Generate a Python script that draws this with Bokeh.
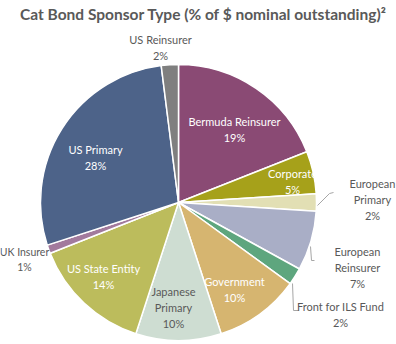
import numpy as np
from bokeh.plotting import figure
from bokeh.models import Range1d, ColumnDataSource
from bokeh.embed import file_html
from bokeh.resources import INLINE
from bokeh.core.properties import value

# ---------------- data ----------------
title_text = "Cat Bond Sponsor Type (% of $ nominal outstanding)\u00b2"
sponsors = ["Bermuda Reinsurer", "Corporate", "European Primary", "European Reinsurer",
            "Front for ILS Fund", "Government", "Japanese Primary", "US State Entity",
            "UK Insurer", "US Primary", "US Reinsurer"]
label_names = ["Bermuda Reinsurer", "Corporate", "European\nPrimary", "European\nReinsurer",
               "Front for ILS Fund", "Government", "Japanese\nPrimary", "US State Entity",
               "UK Insurer", "US Primary", "US Reinsurer"]
shares = [19, 5, 2, 7, 2, 10, 10, 14, 1, 28, 2]

# ---------------- styles / layout ----------------
colors = ["#8A4A74", "#A6A11A", "#E2DFB4", "#A9AEC6", "#5EA67E", "#D6B570",
          "#CEDDD2", "#BCBC5C", "#A27A9D", "#4D6389", "#7F7F7F"]
label_colors = ["white", "white", "#595959", "#595959", "#595959", "white",
                "#595959", "white", "#595959", "white", "#595959"]
label_sizes = ["11px"] * 8 + ["10.5px"] + ["11px"] * 2
# label block centres in page pixels (x, y from top)
label_pos = [(234, 129), (292, 181), (372, 199), (357, 267), (340, 314), (234, 289),
             (173, 307), (103, 276), (24, 259), (95, 157), (160, 47)]
leaders = [[(317, 205), (329, 193), (333, 192)],
           [(310, 246), (311, 260), (314, 260)],
           [(292, 283), (293, 310), (298, 310)]]

W, H = 396, 344
CX, CY, R = 178, 202, 138
FONT = "Lato"

p = figure(width=W, height=H, x_range=Range1d(0, W), y_range=Range1d(0, H),
           output_backend="svg", toolbar_location=None, min_border=0,
           x_axis_location=None, y_axis_location=None)
p.grid.visible = False
p.outline_line_color = None
p.background_fill_color = "white"
p.border_fill_color = "white"

frac = np.cumsum([0] + shares) / float(sum(shares))
start = np.pi / 2 - 2 * np.pi * frac[:-1]
end = np.pi / 2 - 2 * np.pi * frac[1:]
src = ColumnDataSource(dict(start=start, end=end, color=colors, name=sponsors, share=shares))
p.wedge(x=CX, y=H - CY, radius=R, start_angle="start", end_angle="end", direction="clock",
        fill_color="color", line_color="white", line_width=1.5, source=src)

# leader lines
p.multi_line(xs=[[pt[0] for pt in l] for l in leaders],
             ys=[[H - pt[1] for pt in l] for l in leaders],
             line_color="#A6A6A6", line_width=1)

texts = [f"{n}\n{s}%" for n, s in zip(label_names, shares)]
lsrc = ColumnDataSource(dict(x=[q[0] for q in label_pos], y=[H - q[1] for q in label_pos],
                             text=texts, color=label_colors, size=label_sizes))
p.text(x="x", y="y", text="text", text_color="color", text_font_size="size", source=lsrc,
       text_align="center", text_baseline="middle", text_font=value(FONT),
       text_line_height=1.2)

p.text(x=[203], y=[H - 13], text=[title_text], text_align="center", text_baseline="middle",
       text_font=value(FONT), text_font_style="bold", text_font_size="15.5px",
       text_color="#595959")

open("out.html", "w").write(file_html(p, INLINE))
